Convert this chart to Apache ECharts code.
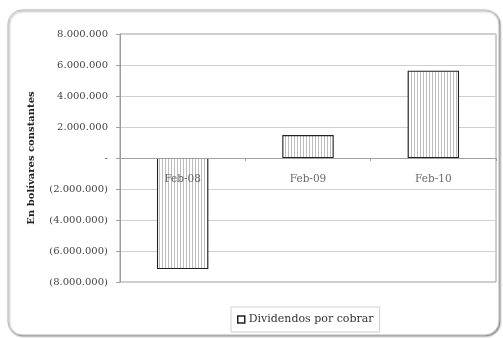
<!DOCTYPE html>
<html>
<head>
<meta charset="utf-8">
<script src="https://cdn.jsdelivr.net/npm/echarts@6/dist/echarts.min.js"></script>
<style>
  html, body { margin: 0; padding: 0; background: #fff; }
  #chart { width: 503px; height: 338px; }
</style>
</head>
<body>
<div id="chart"></div>
<script>
// Dividendos por cobrar, en bolívares constantes
const categories = ['Feb-08', 'Feb-09', 'Feb-10'];
const dividendos = [-7160000, 1480000, 5630000];
const seriesName = 'Dividendos por cobrar';
const axisTitle = 'En bolívares constantes';

// Vertical hatch fill for the bars
function stripePattern() {
  const c = document.createElement('canvas');
  c.width = 3; c.height = 4;
  const ctx = c.getContext('2d');
  ctx.fillStyle = '#ffffff';
  ctx.fillRect(0, 0, 3, 4);
  ctx.fillStyle = '#bdbdbd';
  ctx.fillRect(0, 0, 1, 4);
  return c;
}

function fmtThousands(v) {
  if (v === 0) return '-';
  const s = Math.abs(v).toString().replace(/\B(?=(\d{3})+(?!\d))/g, '.');
  return v < 0 ? '(' + s + ')' : s;
}

const font = "'DejaVu Serif', 'Liberation Serif', serif";
const chart = echarts.init(document.getElementById('chart'), null, { renderer: 'canvas' });

chart.setOption({
  animation: false,
  backgroundColor: '#ffffff',
  textStyle: { fontFamily: font },
  graphic: [{
    type: 'rect',
    z: -10,
    shape: { x: 8, y: 10, width: 491, height: 325, r: 14 },
    style: {
      fill: '#ffffff',
      stroke: '#c4c4c4',
      lineWidth: 1,
      shadowColor: 'rgba(0,0,0,0.45)',
      shadowBlur: 2,
      shadowOffsetX: 1,
      shadowOffsetY: 1
    }
  }],
  grid: {
    left: 120, right: 7, top: 34, bottom: 56,
    show: true, borderColor: '#9c9c9c', borderWidth: 1,
    backgroundColor: 'transparent'
  },
  legend: {
    top: 307,
    left: 231,
    data: [seriesName],
    icon: 'rect',
    itemWidth: 7, itemHeight: 7,
    itemGap: 4,
    padding: [7, 6, 7, 6],
    borderColor: '#cfcfcf',
    borderWidth: 1,
    itemStyle: { color: '#ffffff', borderColor: '#222', borderWidth: 1.5 },
    textStyle: { fontFamily: font, fontSize: 11, color: '#333', padding: [0, 0, 0, -1] }
  },
  xAxis: {
    type: 'category',
    data: categories,
    axisLine: { onZero: true, lineStyle: { color: '#a0a0a0', width: 1 } },
    axisTick: { show: true, length: 3, lineStyle: { color: '#a0a0a0' } },
    axisLabel: { show: false },
    z: 5
  },
  yAxis: {
    type: 'value',
    min: -8000000, max: 8000000, interval: 2000000,
    name: axisTitle,
    nameLocation: 'middle',
    nameGap: 84,
    nameTextStyle: { fontFamily: font, fontSize: 10, fontWeight: 'bold', color: '#222' },
    axisLine: { show: true, lineStyle: { color: '#9c9c9c' } },
    axisTick: { show: true, length: 4, lineStyle: { color: '#a0a0a0' } },
    axisLabel: { margin: 12, fontFamily: font, fontSize: 10, color: '#444', formatter: fmtThousands },
    splitLine: { lineStyle: { color: '#d0d0d0', width: 1 } }
  },
  series: [{
    name: seriesName,
    type: 'bar',
    data: dividendos,
    barWidth: '41%',
    itemStyle: {
      color: { image: stripePattern(), repeat: 'repeat' },
      borderColor: '#222',
      borderWidth: 1.1
    }
  }, {
    // category names sit just under the zero line
    name: 'etiquetas',
    type: 'scatter',
    data: categories.map(c => [c, 0]),
    symbolSize: 0,
    silent: true,
    z: 10,
    label: {
      show: true,
      position: 'bottom',
      distance: 16,
      formatter: p => p.value[0],
      fontFamily: font,
      fontSize: 10.5,
      color: '#444'
    }
  }]
});
</script>
</body>
</html>
